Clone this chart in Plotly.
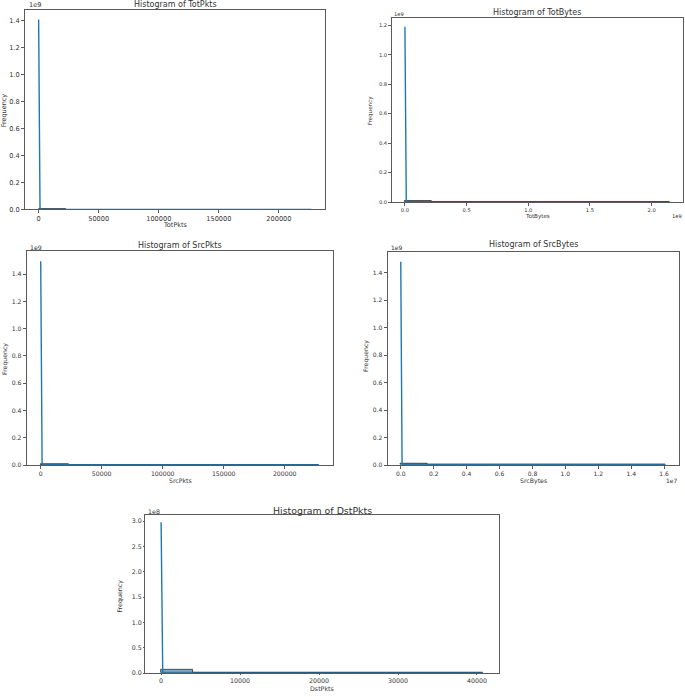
import plotly.graph_objects as go
import numpy as np

W, H = 685, 697

# ---------------- data ----------------
names = ["TotPkts", "TotBytes", "SrcPkts", "SrcBytes", "DstPkts"]
data_max = [227000, 2.147e9, 228000, 1.61e7, 40800]

# histogram bin counts (10 equal bins from 0 to data max)
totpkts_counts = [7.3e6, 2100, 640, 260, 120, 60, 30, 15, 8, 4]
totbytes_counts = [7.3e6, 1500, 420, 180, 80, 40, 20, 10, 5, 2]
srcpkts_counts = [7.3e6, 2000, 600, 240, 110, 55, 28, 14, 7, 3]
srcbytes_counts = [7.3e6, 1800, 500, 220, 100, 50, 25, 12, 6, 3]
dstpkts_counts = [7.2e6, 3000, 900, 350, 150, 70, 35, 18, 9, 4]
counts = [totpkts_counts, totbytes_counts, srcpkts_counts, srcbytes_counts, dstpkts_counts]

# KDE curves (scaled to counts)
totpkts_kde_x = [0, 1140, 2280, 22800, 113000, 227000]
totpkts_kde_y = [1.41e9, 1.2e7, 2.0e5, 1.0e5, 2.0e4, 0]
totbytes_kde_x = [0, 1.08e7, 2.16e7, 2.16e8, 1.07e9, 2.147e9]
totbytes_kde_y = [1.19e9, 1.0e7, 2.0e5, 1.0e5, 2.0e4, 0]
srcpkts_kde_x = [0, 1145, 2290, 22900, 114000, 228000]
srcpkts_kde_y = [1.495e9, 1.2e7, 2.0e5, 1.0e5, 2.0e4, 0]
srcbytes_kde_x = [0, 8.1e4, 1.62e5, 1.62e6, 8.0e6, 1.61e7]
srcbytes_kde_y = [1.48e9, 1.2e7, 2.0e5, 1.0e5, 2.0e4, 0]
dstpkts_kde_x = [0, 205, 410, 4100, 20400, 40800]
dstpkts_kde_y = [2.98e8, 3.0e6, 1.0e5, 5.0e4, 1.0e4, 0]
kde_xs = [totpkts_kde_x, totbytes_kde_x, srcpkts_kde_x, srcbytes_kde_x, dstpkts_kde_x]
kde_ys = [totpkts_kde_y, totbytes_kde_y, srcpkts_kde_y, srcbytes_kde_y, dstpkts_kde_y]

# tick labels
pkts_xticks = [0, 50000, 100000, 150000, 200000]
pkts_xlabels = ["0", "50000", "100000", "150000", "200000"]
totbytes_xticks = [0, 0.5e9, 1.0e9, 1.5e9, 2.0e9]
totbytes_xlabels = ["0.0", "0.5", "1.0", "1.5", "2.0"]
srcbytes_xticks = [0, 0.2e7, 0.4e7, 0.6e7, 0.8e7, 1.0e7, 1.2e7, 1.4e7, 1.6e7]
srcbytes_xlabels = ["0.0", "0.2", "0.4", "0.6", "0.8", "1.0", "1.2", "1.4", "1.6"]
dstpkts_xticks = [0, 10000, 20000, 30000, 40000]
dstpkts_xlabels = ["0", "10000", "20000", "30000", "40000"]
e9_yticks14 = [0, 0.2e9, 0.4e9, 0.6e9, 0.8e9, 1.0e9, 1.2e9, 1.4e9]
e9_ylabels14 = ["0.0", "0.2", "0.4", "0.6", "0.8", "1.0", "1.2", "1.4"]
e9_yticks12 = [0, 0.2e9, 0.4e9, 0.6e9, 0.8e9, 1.0e9, 1.2e9]
e9_ylabels12 = ["0.0", "0.2", "0.4", "0.6", "0.8", "1.0", "1.2"]
e8_yticks = [0, 0.5e8, 1.0e8, 1.5e8, 2.0e8, 2.5e8, 3.0e8]
e8_ylabels = ["0.0", "0.5", "1.0", "1.5", "2.0", "2.5", "3.0"]

xticks = [pkts_xticks, totbytes_xticks, pkts_xticks, srcbytes_xticks, dstpkts_xticks]
xlabels = [pkts_xlabels, totbytes_xlabels, pkts_xlabels, srcbytes_xlabels, dstpkts_xlabels]
yticks = [e9_yticks14, e9_yticks12, e9_yticks14, e9_yticks14, e8_yticks]
ylabels = [e9_ylabels14, e9_ylabels12, e9_ylabels14, e9_ylabels14, e8_ylabels]
y_offsets = ["1e9", "1e9", "1e9", "1e9", "1e8"]
x_offsets = [None, "1e9", None, "1e7", None]

# ---------------- layout (pixels) ----------------
# box left, right, top, bottom
boxes = [
    (25, 325, 10, 210.7),
    (391.7, 683, 18, 203.3),
    (26.8, 332.8, 252.5, 467.7),
    (387.5, 679, 253.1, 467.7),
    (145, 499.4, 517.7, 677),
]
tick_fs = [6.6, 5.2, 6.2, 6.0, 6.3]
tick_len = [3, 2.5, 3, 3, 1]
title_fs = [8.0, 8.0, 8.0, 8.0, 9.4]
label_fs = [6.5, 5.6, 6.2, 6.2, 6.3]
title_pos = [(175, 4.5), (537, 12.5), (180, 246.5), (533, 246), (322, 513)]
# (x, y, yanchor)
xlab_pos = [(175.5, 226.5, "middle"), (537, 218, "middle"), (180, 483, "middle"),
            (533, 483.5, "middle"), (322, 697, "bottom")]
ylab_pos = [(4, 111), (370, 111), (5, 361), (366, 358), (120, 600)]
yoff_pos = [(26.5, 5.5), (392, 14), (27.5, 249), (388.5, 249), (146, 514.5)]
xoff_pos = [None, (677, 217), None, (672, 483.5), None]

LINE = "#5a5a5a"
TEXT = "#333333"
BLUE = "#1f77b4"
FONT = "DejaVu Sans"

fig = go.Figure()
annotations = []


def px(x):
    return x / W


def py(y):
    return 1 - y / H


for i, name in enumerate(names):
    k = "" if i == 0 else str(i + 1)
    xa, ya = "x" + k, "y" + k
    mx = data_max[i]
    edges = np.linspace(0, mx, len(counts[i]) + 1)
    centers = (edges[:-1] + edges[1:]) / 2
    width = edges[1] - edges[0]
    fig.add_trace(go.Bar(
        x=centers, y=counts[i], width=width,
        marker=dict(color="rgba(31,119,180,0.6)",
                    line=dict(color="rgba(20,20,20,0.85)", width=0.8)),
        xaxis=xa, yaxis=ya, showlegend=False, hoverinfo="x+y"))
    fig.add_trace(go.Scatter(
        x=kde_xs[i], y=kde_ys[i], mode="lines",
        line=dict(color=BLUE, width=1.4),
        xaxis=xa, yaxis=ya, showlegend=False))

    l, r, t, b = boxes[i]
    peak = max(kde_ys[i])
    common = dict(showgrid=False, zeroline=False, showline=True, mirror=True,
                  linecolor=LINE, linewidth=1, ticks="outside", ticklen=tick_len[i],
                  tickwidth=0.8, tickcolor=LINE,
                  tickfont=dict(family=FONT, size=tick_fs[i], color=TEXT))
    fig.layout["xaxis" + k] = dict(
        domain=[px(l), px(r)], anchor=ya,
        range=[-0.05 * mx, 1.05 * mx],
        tickmode="array", tickvals=xticks[i], ticktext=xlabels[i], **common)
    fig.layout["yaxis" + k] = dict(
        domain=[py(b), py(t)], anchor=xa,
        range=[0, 1.05 * peak],
        tickmode="array", tickvals=yticks[i], ticktext=ylabels[i], **common)

    tx, ty = title_pos[i]
    annotations.append(dict(x=px(tx), y=py(ty), xref="paper", yref="paper",
                            text="Histogram of " + name, showarrow=False,
                            xanchor="center", yanchor="middle",
                            font=dict(family=FONT, size=title_fs[i], color=TEXT)))
    lx, ly, lanc = xlab_pos[i]
    annotations.append(dict(x=px(lx), y=py(ly), xref="paper", yref="paper",
                            text=name, showarrow=False, borderpad=0,
                            xanchor="center", yanchor=lanc,
                            font=dict(family=FONT, size=label_fs[i], color=TEXT)))
    fx, fy = ylab_pos[i]
    annotations.append(dict(x=px(fx), y=py(fy), xref="paper", yref="paper",
                            text="Frequency", showarrow=False, textangle=-90,
                            xanchor="center", yanchor="middle",
                            font=dict(family=FONT, size=label_fs[i], color=TEXT)))
    ox, oy = yoff_pos[i]
    annotations.append(dict(x=px(ox), y=py(oy), xref="paper", yref="paper",
                            text=y_offsets[i], showarrow=False,
                            xanchor="left", yanchor="middle",
                            font=dict(family=FONT, size=tick_fs[i], color=TEXT)))
    if x_offsets[i]:
        ox, oy = xoff_pos[i]
        annotations.append(dict(x=px(ox), y=py(oy), xref="paper", yref="paper",
                                text=x_offsets[i], showarrow=False,
                                xanchor="center", yanchor="middle",
                                font=dict(family=FONT, size=tick_fs[i], color=TEXT)))

fig.update_layout(
    width=W, height=H, margin=dict(l=0, r=0, t=0, b=0),
    paper_bgcolor="white", plot_bgcolor="white",
    annotations=annotations, bargap=0,
    font=dict(family=FONT, color=TEXT),
)

fig.write_html(
    "out.html",
    config={"displayModeBar": False},
    post_script="document.body.style.margin='0';document.body.style.overflow='hidden';",
)
